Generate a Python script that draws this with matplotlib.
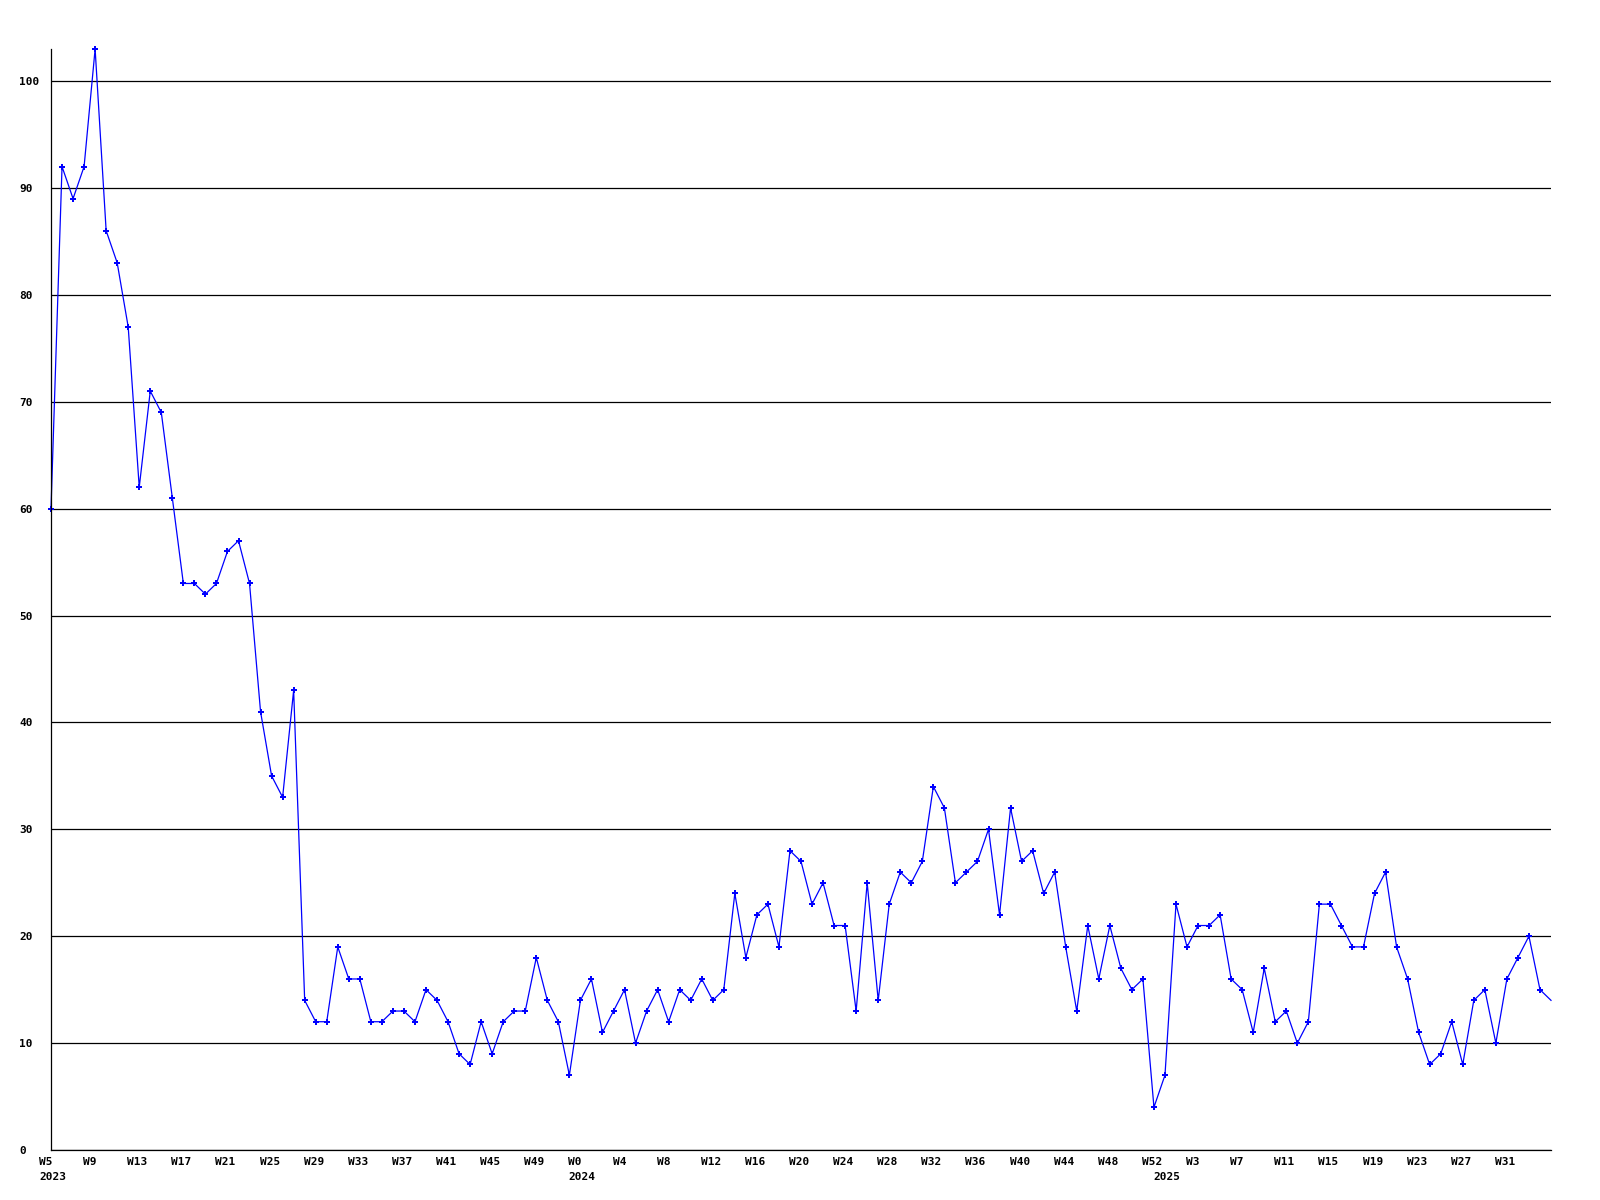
import matplotlib
matplotlib.use('Agg')
import matplotlib.pyplot as plt
from matplotlib.transforms import offset_copy

# weekly counts
values_2023 = [60, 92, 89, 92, 103, 86, 83, 77, 62, 71, 69, 61, 53, 53, 52, 53,
               56, 57, 53, 41, 35, 33, 43, 14, 12, 12, 19, 16, 16, 12, 12, 13,
               13, 12, 15, 14, 12, 9, 8, 12, 9, 12, 13, 13, 18, 14, 12, 7]
values_2024 = [14, 16, 11, 13, 15, 10, 13, 15, 12, 15, 14, 16, 14, 15, 24, 18,
               22, 23, 19, 28, 27, 23, 25, 21, 21, 13, 25, 14, 23, 26, 25, 27,
               34, 32, 25, 26, 27, 30, 22, 32, 27, 28, 24, 26, 19, 13, 21, 16,
               21, 17, 15, 16, 4]
values_2025 = [7, 23, 19, 21, 21, 22, 16, 15, 11, 17, 12, 13, 10, 12, 23, 23,
               21, 19, 19, 24, 26, 19, 16, 11, 8, 9, 12, 8, 14, 15, 10, 16,
               18, 20, 15, 14]

weeks_2023 = list(range(5, 53))
weeks_2024 = list(range(0, 53))
weeks_2025 = list(range(0, 36))

years = [2023, 2024, 2025]
y_ticks = list(range(0, 101, 10))

values = values_2023 + values_2024 + values_2025
weeks = weeks_2023 + weeks_2024 + weeks_2025
x = list(range(len(values)))
year_start = [0, len(values_2023), len(values_2023) + len(values_2024)]

fig = plt.figure(figsize=(16, 12), dpi=100)
ax = fig.add_axes([51 / 1600, 50 / 1200, 1500 / 1600, 1101 / 1200])

# last point sits on the right edge, its marker is cut off in the original
ax.plot(x, values, color='#0000ff', lw=0.9, marker='P', ms=4.5, mew=0,
        markevery=list(range(len(values) - 1)), clip_on=False)

ax.set_xlim(0, len(values) - 1)
ax.set_ylim(0, 103)

ax.set_yticks(y_ticks)
ax.set_yticklabels([str(v) for v in y_ticks], family='DejaVu Sans Mono',
                   fontweight='bold', fontsize=8, ha='left')
ax.tick_params(axis='y', length=0, pad=23)
ax.yaxis.grid(True, color='black', lw=0.9)
ax.set_axisbelow(True)

ax.set_xticks([])
ax.spines['top'].set_visible(False)
ax.spines['right'].set_visible(False)
ax.spines['left'].set_linewidth(0.9)
ax.spines['bottom'].set_linewidth(0.9)

# week labels, left aligned slightly before each point
week_tr = offset_copy(ax.get_xaxis_transform(), fig=fig, x=-12, y=-12, units='dots')
for i in range(0, len(values) - 1, 4):
    ax.text(i, 0, 'W%d' % weeks[i], transform=week_tr, ha='left', va='center',
            family='DejaVu Sans Mono', fontweight='bold', fontsize=8, clip_on=False)

year_tr = offset_copy(ax.get_xaxis_transform(), fig=fig, x=-12, y=-27, units='dots')
for yr, i in zip(years, year_start):
    ax.text(i, 0, str(yr), transform=year_tr, ha='left', va='center',
            family='DejaVu Sans Mono', fontweight='bold', fontsize=8, clip_on=False)

fig.savefig('out.png', dpi=100)
